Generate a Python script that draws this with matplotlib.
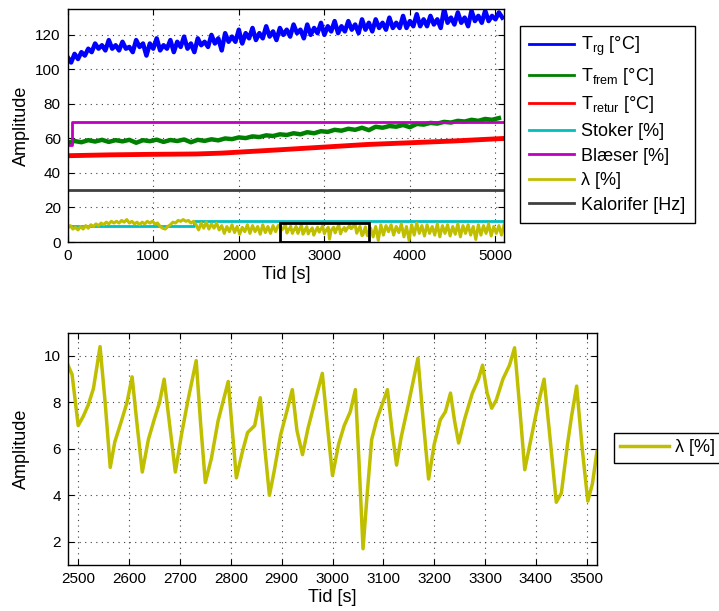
import numpy as np
import matplotlib
matplotlib.use("Agg")
import matplotlib.pyplot as plt
from matplotlib.patches import Rectangle

plt.rcParams['font.family'] = ['Liberation Sans', 'DejaVu Sans']
plt.rcParams['mathtext.default'] = 'regular'

# ---------------- data ----------------
# T_rg, sampled every 40 s from 0 to 5080 s
trg_t = list(range(0, 5081, 40))
trg_v = [107, 104, 109, 106, 110, 108, 112, 110,
         115, 112, 114, 111, 117, 112, 114, 111,
         116, 112, 113, 110, 117, 113, 115, 108,
         115, 112, 118, 111, 114, 112, 117, 110,
         116, 113, 119, 112, 115, 110, 118, 114,
         116, 113, 120, 115, 118, 111, 121, 116,
         119, 116, 123, 115, 121, 118, 124, 117,
         121, 118, 125, 119, 122, 117, 124, 120,
         123, 119, 126, 121, 123, 118, 126, 120,
         124, 121, 127, 120, 125, 122, 128, 121,
         125, 122, 128, 123, 126, 121, 129, 123,
         127, 122, 129, 124, 127, 123, 130, 124,
         127, 124, 131, 124, 128, 125, 132, 125,
         129, 125, 131, 126, 129, 124, 135, 127,
         130, 126, 133, 127, 130, 125, 134, 128,
         131, 127, 134, 128, 131, 129, 133, 130]

# T_frem, sampled every 80 s from 0 to 5040 s
tfrem_t = list(range(0, 5041, 80))
tfrem_v = [57.5, 58.5, 57.8, 59, 58.2, 59.2, 58, 59,
           58.3, 59.2, 57.5, 59, 58.4, 59.3, 58, 59.1,
           58.5, 59.4, 57.8, 59.2, 58.6, 59.5, 58.9, 60,
           59.6, 60.6, 60.2, 61.2, 60.8, 61.8, 61.4, 62.4,
           62, 63, 62.4, 63.6, 63, 64.2, 63.8, 65,
           64.5, 65.6, 65, 66.2, 64.8, 66.8, 66.2, 67.2,
           66.8, 67.8, 66.5, 68.4, 68, 69, 68.6, 69.6,
           69.2, 70.2, 69.8, 70.8, 70.2, 71.3, 70.8, 71.8]

tretur_t = [0, 500, 1000, 1500, 1800, 2500, 3000, 3500, 4000, 4500, 5100]
tretur_v = [50, 50.5, 50.8, 51, 51.5, 53.5, 55, 56.5, 57.5, 58.5, 60]

stoker_t = [0, 1480, 1480, 5100]
stoker_v = [9, 9, 12, 12]

blaeser_t = [0, 47, 47, 5100]
blaeser_v = [56, 56, 69.5, 69.5]

kalor_t = [0, 5100]
kalor_v = [30, 30]

# lambda, 0-1470 s every 30 s
lam_a_t = list(range(0, 1471, 30))
lam_a_v = [8, 9.5, 7.5, 8.5, 7, 9, 7.5, 9.5, 8, 10,
           9, 10.5, 9.5, 11, 10, 11.5, 10.5, 12, 11, 12,
           11, 12.5, 11.5, 13, 11, 12, 10.5, 11.5, 10, 11.5,
           10.5, 12, 11, 12, 10.5, 11, 9, 8, 7.5, 9,
           10, 11.5, 11, 12.5, 12, 13, 12, 12.5, 11, 12]
# lambda, 1500-2460 s every 30 s
lam_b_t = list(range(1500, 2461, 30))
lam_b_v = [10, 7, 11, 8, 11.5, 7.5, 10.5, 8, 11, 7,
           9.5, 5, 9, 6, 10, 5.5, 9, 4.5, 8.5, 6,
           10, 5, 9.5, 6, 9, 4.5, 10, 5.5, 9, 5,
           9.5, 6, 9.5]
# lambda, detailed 2480-3520 s (zoom window)
lam_z_t = [2480, 2488, 2500, 2510, 2520, 2530, 2543, 2553, 2563, 2572,
           2585, 2596, 2606, 2616, 2626, 2638, 2650, 2660, 2669, 2680,
           2691, 2703, 2715, 2732, 2741, 2750, 2762, 2775, 2795, 2803,
           2811, 2822, 2833, 2847, 2858, 2867, 2876, 2885, 2898, 2910,
           2921, 2930, 2941, 2952, 2965, 2980, 2990, 3000, 3012, 3023,
           3035, 3045, 3052, 3060, 3068, 3077, 3087, 3108, 3117, 3126,
           3135, 3150, 3168, 3178, 3189, 3200, 3212, 3222, 3232, 3240,
           3248, 3260, 3275, 3287, 3295, 3304, 3313, 3322, 3335, 3348,
           3358, 3368, 3378, 3390, 3403, 3416, 3428, 3440, 3450, 3462,
           3470, 3480, 3491, 3502, 3511, 3520]
lam_z_v = [9.6, 9.2, 7.0, 7.4, 7.9, 8.6, 10.4, 8.0, 5.2, 6.3,
           7.2, 8.0, 9.1, 7.0, 5.0, 6.4, 7.3, 8.0, 9.0, 7.0,
           5.0, 6.6, 8.0, 9.8, 7.0, 4.55, 5.6, 7.2, 8.9, 6.8,
           4.75, 5.8, 6.7, 7.0, 8.2, 6.0, 4.0, 5.0, 6.6, 7.6,
           8.55, 6.8, 5.75, 6.9, 8.0, 9.25, 7.0, 4.85, 6.2, 7.0,
           7.6, 8.55, 5.5, 1.7, 4.0, 6.4, 7.25, 8.55, 6.8, 5.3,
           6.5, 8.0, 9.9, 7.3, 4.7, 6.2, 7.25, 7.6, 8.4, 7.2,
           6.25, 7.3, 8.4, 9.0, 9.6, 8.4, 7.75, 8.1, 9.0, 9.6,
           10.35, 7.8, 5.1, 6.4, 7.8, 9.0, 6.4, 3.7, 4.1, 6.2,
           7.4, 8.7, 6.0, 3.75, 4.5, 5.9]
# lambda, 3540-5100 s every 30 s
lam_c_t = list(range(3540, 5101, 30))
lam_c_v = [8, 3, 9, 1, 10, 4, 9.5, 6, 10, 4,
           9, 5.5, 10.5, 3, 9, 1, 10, 4, 11, 5,
           9.5, 3.5, 10, 5, 9, 4, 10.5, 3, 9.5, 5,
           10, 3.5, 9, 4.5, 10.5, 3, 9.5, 5, 10, 4,
           9, 1.5, 10, 4, 9.5, 5, 10.5, 3.5, 9, 5,
           9.5, 4, 10]

lam_t = lam_a_t + lam_b_t + lam_z_t + lam_c_t
lam_v = lam_a_v + lam_b_v + lam_z_v + lam_c_v

labels = [r'T$_{rg}$ [°C]', r'T$_{frem}$ [°C]', r'T$_{retur}$ [°C]',
          'Stoker [%]', 'Blæser [%]', 'λ [%]', 'Kalorifer [Hz]']
colors = ['#0000FF', '#008000', '#FF0000', '#00BFBF', '#BF00BF', '#BFBF00', '#404040']

zoom_x = (2480, 3520)
zoom_y = (0, 11)

# ---------------- figure ----------------
fig = plt.figure(figsize=(7.19, 6.11), dpi=100)
ax1 = fig.add_axes([0.0942, 0.6039, 0.6068, 0.3814])
ax2 = fig.add_axes([0.0946, 0.0753, 0.7357, 0.3802])

series = [(trg_t, trg_v, 3.2), (tfrem_t, tfrem_v, 3.2), (tretur_t, tretur_v, 3.5),
          (stoker_t, stoker_v, 2.0), (blaeser_t, blaeser_v, 2.0),
          (lam_t, lam_v, 2.2), (kalor_t, kalor_v, 2.0)]
handles = []
for (t, v, lw), c, lab in zip(series, colors, labels):
    ax1.plot(t, v, color=c, lw=lw, solid_joinstyle='round')
    h, = ax1.plot([], [], color=c, lw=2.0, label=lab)
    handles.append(h)

ax1.add_patch(Rectangle((zoom_x[0], zoom_y[0]), zoom_x[1] - zoom_x[0],
                        zoom_y[1] - zoom_y[0], fill=False, ec='black', lw=2, zorder=5))

ax1.set_xlim(0, 5100)
ax1.set_ylim(0, 135)
ax1.set_xticks([0, 1000, 2000, 3000, 4000, 5000])
ax1.set_yticks([0, 20, 40, 60, 80, 100, 120])
ax1.set_xlabel('Tid [s]', fontsize=13, labelpad=2)
ax1.set_ylabel('Amplitude', fontsize=13, labelpad=4)

ax2.plot(lam_z_t, lam_z_v, color=colors[5], lw=2.5, label='λ [%]',
         solid_joinstyle='round')
ax2.set_xlim(*zoom_x)
ax2.set_ylim(1, 11)
ax2.set_xticks(list(range(2500, 3501, 100)))
ax2.set_yticks([2, 4, 6, 8, 10])
ax2.set_xlabel('Tid [s]', fontsize=13, labelpad=2)
ax2.set_ylabel('Amplitude', fontsize=13, labelpad=10)

for ax in (ax1, ax2):
    ax.grid(True, color='0.25', linestyle=(0, (1, 4)), lw=0.8)
    ax.tick_params(direction='in', top=True, right=True, length=4, width=0.8,
                   labelsize=11, pad=5)
    for s in ax.spines.values():
        s.set_linewidth(1.0)
        s.set_color('black')

leg1 = ax1.legend(handles=handles, loc='upper left', bbox_to_anchor=(0.7232, 0.9574),
                  bbox_transform=fig.transFigure, borderaxespad=0, fontsize=13,
                  fancybox=False, edgecolor='black', framealpha=1,
                  handlelength=2.5, handletextpad=0.4, labelspacing=0.42,
                  borderpad=0.5)
leg1.get_frame().set_linewidth(1.0)

leg2 = ax2.legend(loc='upper left', bbox_to_anchor=(0.854, 0.2913),
                  bbox_transform=fig.transFigure, borderaxespad=0, fontsize=13,
                  fancybox=False, edgecolor='black', framealpha=1,
                  handlelength=2.7, handletextpad=0.3, borderpad=0.35)
leg2.get_frame().set_linewidth(1.0)

fig.savefig('out.png', dpi=100)
